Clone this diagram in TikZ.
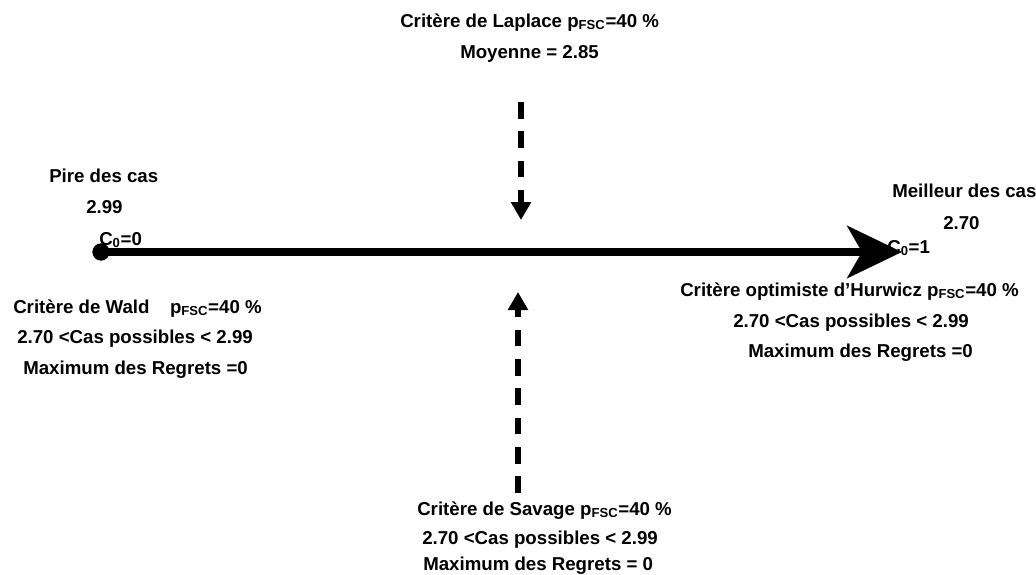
\documentclass[tikz,border=0pt]{standalone}
\usepackage{fontspec}
\setmainfont{Liberation Sans}
\usetikzlibrary{arrows.meta}
\tikzstyle{Label}=[anchor=base west,inner sep=0pt,font=\fontsize{14}{16}\selectfont\bfseries]
\tikzstyle{Axis}=[line width=6.4pt,-{Stealth[length=41pt,width=39pt,inset=11pt]}]
\tikzstyle{Hint}=[line width=4.3pt,dash pattern=on 12.5pt off 9.5pt,
-{Triangle[length=13.5pt,width=14.5pt]}]
\tikzstyle{Dot}=[circle,fill,inner sep=0pt,minimum size=13pt]
\newcommand{\pfsc}{p\textsubscript{FSC}=40~\%}

\begin{document}
\begin{tikzpicture}[x=0.75pt,y=-0.75pt]
        \useasboundingbox (0,0) rectangle (1036,575);
        % axe C0 de 0 a 1
        \node[Dot](start)at(101,252){};
        \coordinate(end)at(902,252);
        \draw[Axis](start.center)--(end);
        \node[Label](c0a)at(99,245){C\textsubscript{0}=0};
        \node[Label](c0b)at(887,253){C\textsubscript{0}=1};
        % extremes
        \node[Label](worst)at(49,182){Pire des cas};
        \node[Label](worstv)at(86,213){2.99};
        \node[Label](best)at(892,197){Meilleur des cas};
        \node[Label](bestv)at(943,229){2.70};
        % Laplace
        \node[Label](lap)at(400,27){Crit\`ere de Laplace \pfsc};
        \node[Label](lapm)at(460,58){Moyenne = 2.85};
        \coordinate(lapa)at(521,102);
        \coordinate(lapb)at(521,220);
        \draw[Hint](lapa)--(lapb);
        % Wald
        \node[Label](wald)at(13,313){Crit\`ere de Wald\hspace{1.1em}\pfsc};
        \node[Label](waldc)at(17,343){2.70 <Cas possibles < 2.99};
        \node[Label](waldr)at(23,374){Maximum des Regrets =0};
        % Hurwicz
        \node[Label](hur)at(680,296){Crit\`ere optimiste d’Hurwicz \pfsc};
        \node[Label](hurc)at(733,327){2.70 <Cas possibles < 2.99};
        \node[Label](hurr)at(748,357){Maximum des Regrets =0};
        % Savage
        \coordinate(sava)at(518,493);
        \coordinate(savb)at(518,292);
        \draw[Hint](sava)--(savb);
        \node[Label](sav)at(417,515){Crit\`ere de Savage \pfsc};
        \node[Label](savc)at(422,544){2.70 <Cas possibles < 2.99};
        \node[Label](savr)at(423,570){Maximum des Regrets = 0};
    \end{tikzpicture}
\end{document}
